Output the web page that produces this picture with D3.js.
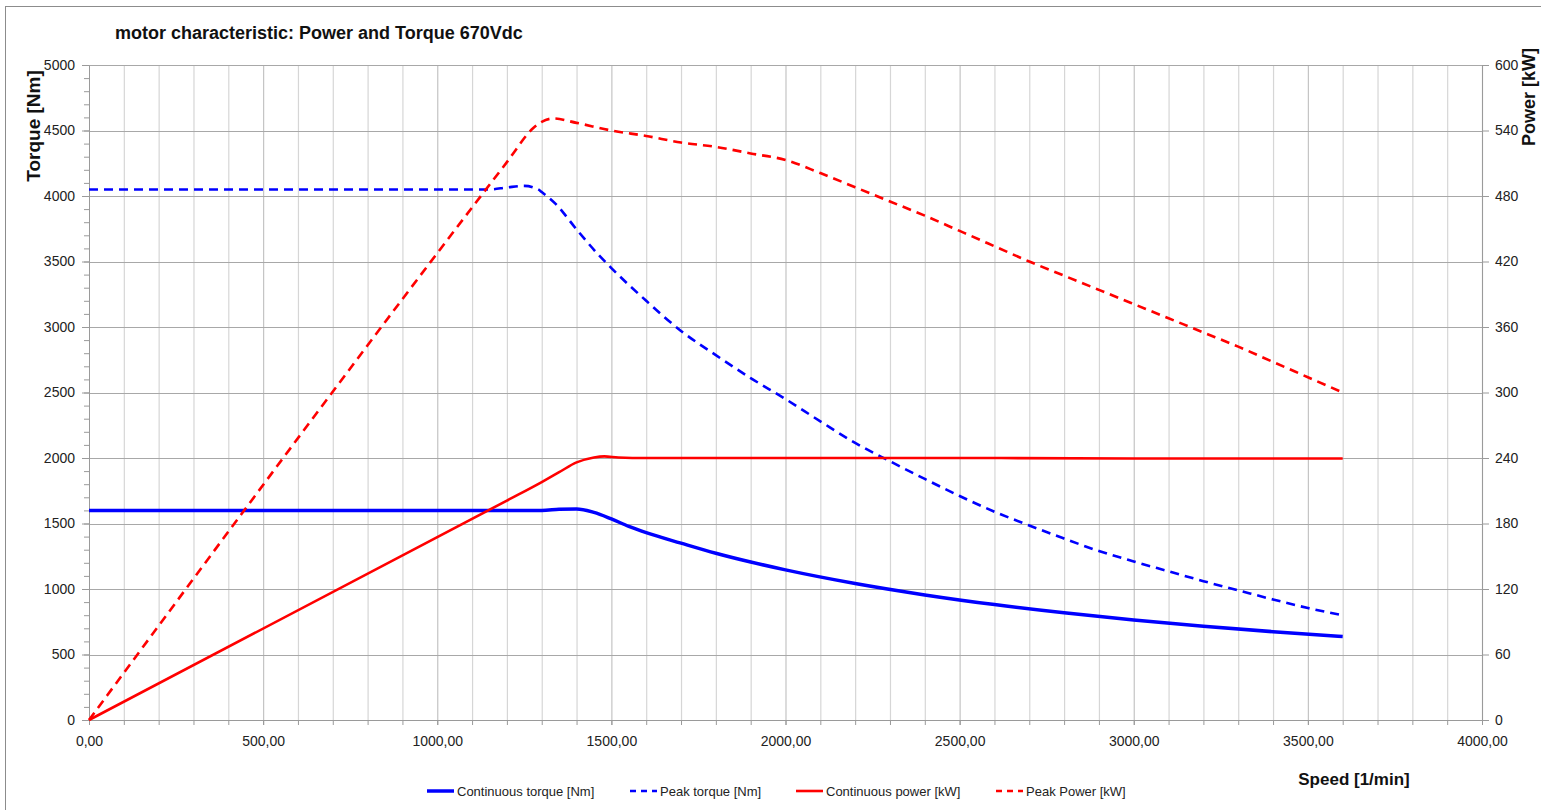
<!DOCTYPE html>
<html>
<head>
<meta charset="utf-8">
<script src="https://cdn.jsdelivr.net/npm/d3@7"></script>
<style>
  body { margin: 0; background: #fff; }
  svg { display: block; font-family: "Liberation Sans", Arial, sans-serif; }
  .axis path, .axis line { stroke: #9a9a9a; }
  .axis text { fill: #222; font-size: 14px; }
</style>
</head>
<body>
<svg id="chart" width="1541" height="810"></svg>
<script>
// speed [1/min] and values
const contTorqueSpeed = [0, 1200, 1300, 1350, 1400, 1450, 1500, 1550, 1600, 1700, 1800, 1900, 2000, 2200, 2400, 2600, 2800, 3000, 3200, 3400, 3600];
const contTorque      = [1600, 1600, 1600, 1608, 1611, 1585, 1535, 1478, 1430, 1350, 1273, 1206, 1146, 1042, 955, 881, 818, 764, 716, 674, 637];

const peakTorqueSpeed = [0, 1150, 1200, 1250, 1290, 1300, 1340, 1400, 1460, 1500, 1600, 1700, 1800, 1900, 2000, 2100, 2200, 2300, 2400, 2500, 2600, 2700, 2800, 2900, 3000, 3100, 3200, 3300, 3400, 3500, 3600];
const peakTorque      = [4050, 4050, 4065, 4077, 4050, 4030, 3940, 3745, 3560, 3450, 3200, 2970, 2785, 2610, 2450, 2280, 2115, 1975, 1840, 1710, 1590, 1485, 1385, 1290, 1210, 1135, 1060, 990, 920, 855, 800];

const contPowerSpeed = [0, 1200, 1300, 1350, 1400, 1450, 1480, 1520, 1600, 2000, 2500, 3000, 3600];
const contPower      = [0, 201, 218, 227, 236, 240.5, 241.5, 240.5, 240, 240, 240, 239.6, 239.5];

const peakPowerSpeed = [0, 1200, 1275, 1300, 1333, 1400, 1500, 1600, 1700, 1800, 1900, 2000, 2100, 2200, 2300, 2400, 2500, 2600, 2700, 2800, 2900, 3000, 3100, 3200, 3300, 3400, 3500, 3600];
const peakPower      = [0, 511, 542, 548, 551, 547, 540, 535, 529, 525, 519, 513, 501, 488, 475, 462, 448, 434, 420, 407, 394, 381, 368, 355, 342, 328, 314, 300];

const speedTicks  = d3.range(0, 4001, 500);
const torqueTicks = d3.range(0, 5001, 500);
const powerTicks  = d3.range(0, 601, 60);

const series = [
  { name: "Continuous torque [Nm]", xs: contTorqueSpeed, ys: contTorque, axis: "T", color: "#0000ff", width: 3.5, dash: null },
  { name: "Peak torque [Nm]", xs: peakTorqueSpeed, ys: peakTorque, axis: "T", color: "#0000ff", width: 2.6, dash: "9,6" },
  { name: "Continuous power [kW]", xs: contPowerSpeed, ys: contPower, axis: "P", color: "#ff0000", width: 2.6, dash: null },
  { name: "Peak Power [kW]", xs: peakPowerSpeed, ys: peakPower, axis: "P", color: "#ff0000", width: 2.6, dash: "9,6" }
];

const svg = d3.select("#chart");

const x = d3.scaleLinear().domain([0, 4000]).range([89, 1482]);
const yT = d3.scaleLinear().domain([0, 5000]).range([720, 65]);
const yP = d3.scaleLinear().domain([0, 600]).range([720, 65]);

// outer frame
svg.append("rect")
  .attr("x", 5.5).attr("y", 6.5)
  .attr("width", 1545).attr("height", 820)
  .attr("fill", "none").attr("stroke", "#8c8c8c");

// grid
const grid = svg.append("g");
grid.selectAll(".vg")
  .data(d3.range(100, 4001, 100))
  .join("line")
  .attr("x1", (d) => x(d) + 0.5).attr("x2", (d) => x(d) + 0.5)
  .attr("y1", yT(5000)).attr("y2", yT(0))
  .attr("stroke", (d) => d % 500 === 0 ? "#c4c4c4" : "#d6d6d6")
  .attr("stroke-width", 1.2);
grid.selectAll(".hg")
  .data(torqueTicks.slice(1))
  .join("line")
  .attr("x1", x(0)).attr("x2", x(4000))
  .attr("y1", (d) => Math.round(yT(d)) + 0.5).attr("y2", (d) => Math.round(yT(d)) + 0.5)
  .attr("stroke", "#a8a8a8")
  .attr("stroke-width", 1.2);

const fmtSpeed = (d) => d3.format(".2f")(d).replace(".", ",");

// bottom axis
svg.append("g").attr("class", "axis")
  .attr("transform", "translate(0,720)")
  .call(d3.axisBottom(x).tickValues(d3.range(0, 4001, 100)).tickSize(5).tickFormat(""))
  .call((g) => g.select(".domain").remove());
svg.append("g").attr("class", "axis")
  .attr("transform", "translate(0,720)")
  .call(d3.axisBottom(x).tickValues(speedTicks).tickSizeInner(5).tickSizeOuter(0).tickPadding(11).tickFormat(fmtSpeed));

// left axis
svg.append("g").attr("class", "axis")
  .attr("transform", "translate(89,0)")
  .call(d3.axisLeft(yT).tickValues(d3.range(0, 5001, 100)).tickSize(5).tickFormat(""))
  .call((g) => g.select(".domain").remove());
svg.append("g").attr("class", "axis")
  .attr("transform", "translate(89,0)")
  .call(d3.axisLeft(yT).tickValues(torqueTicks).tickSizeInner(7).tickSizeOuter(0).tickPadding(7).tickFormat(d3.format("d")));

// right axis
svg.append("g").attr("class", "axis")
  .attr("transform", "translate(1482,0)")
  .call(d3.axisRight(yP).tickValues(powerTicks).tickSizeInner(7).tickSizeOuter(0).tickPadding(6).tickFormat(d3.format("d")));

// lines
const plot = svg.append("g");
series.forEach((s) => {
  const yScale = s.axis === "T" ? yT : yP;
  const pts = s.xs.map((v, i) => [v, s.ys[i]]);
  plot.append("path")
    .datum(pts)
    .attr("fill", "none")
    .attr("stroke", s.color)
    .attr("stroke-width", s.width)
    .attr("stroke-dasharray", s.dash)
    .attr("stroke-linejoin", "round")
    .attr("d", d3.line().curve(d3.curveMonotoneX).x((d) => x(d[0])).y((d) => yScale(d[1])));
});

// titles
svg.append("text")
  .attr("x", 115).attr("y", 39)
  .attr("font-size", 18).attr("font-weight", "bold").attr("fill", "#111")
  .text("motor characteristic: Power and Torque 670Vdc");

svg.append("text")
  .attr("transform", "translate(40,126) rotate(-90)")
  .attr("text-anchor", "middle")
  .attr("font-size", 19).attr("font-weight", "bold").attr("fill", "#111")
  .text("Torque [Nm]");

svg.append("text")
  .attr("transform", "translate(1535,97) rotate(-90)")
  .attr("text-anchor", "middle")
  .attr("font-size", 18).attr("font-weight", "bold").attr("fill", "#111")
  .text("Power [kW]");

svg.append("text")
  .attr("x", 1354).attr("y", 785)
  .attr("text-anchor", "middle")
  .attr("font-size", 17).attr("font-weight", "bold").attr("fill", "#111")
  .text("Speed [1/min]");

// legend
const legendX = [427, 630, 796, 996];
const legend = svg.append("g");
series.forEach((s, i) => {
  const g = legend.append("g").attr("transform", `translate(${legendX[i]},791)`);
  g.append("line")
    .attr("x1", 0).attr("x2", 27)
    .attr("stroke", s.color)
    .attr("stroke-width", s.width)
    .attr("stroke-dasharray", s.dash ? "6,5" : null);
  g.append("text")
    .attr("x", 30).attr("dy", "0.35em")
    .attr("font-size", 13).attr("fill", "#222")
    .text(s.name);
});
</script>
</body>
</html>
